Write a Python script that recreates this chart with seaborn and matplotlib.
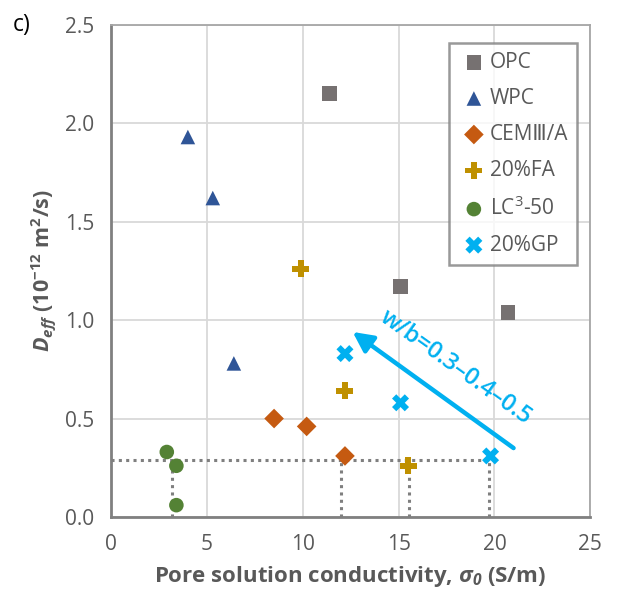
import numpy as np
import pandas as pd
import matplotlib
matplotlib.use('Agg')
import matplotlib.pyplot as plt
import seaborn as sns

# data
opc_x = [11.4, 15.1, 20.7]
opc_y = [2.15, 1.17, 1.04]
wpc_x = [4.0, 5.3, 6.4]
wpc_y = [1.93, 1.62, 0.78]
cem_x = [8.5, 10.2, 12.2]
cem_y = [0.50, 0.46, 0.31]
fa_x = [9.9, 12.2, 15.5]
fa_y = [1.26, 0.64, 0.26]
lc3_x = [2.9, 3.4, 3.4]
lc3_y = [0.33, 0.26, 0.06]
gp_x = [12.2, 15.1, 19.8]
gp_y = [0.83, 0.58, 0.31]

names = ['OPC', 'WPC', 'CEMⅢ/A', '20%FA', 'LC$^3$-50', '20%GP']
colors = ['#767171', '#2F5597', '#C55A11', '#BF9000', '#548235', '#00B0F0']
markers = ['s', '^', 'D', 'P', 'o', 'X']
sizes = [110, 110, 100, 150, 110, 150]

# threshold guide lines (dotted)
thr_y = 0.29
thr_x = [3.15, 12.0, 15.55, 19.7]

sns.set_style('white')
plt.rcParams['font.family'] = ['Open Sans', 'DejaVu Sans']
plt.rcParams['mathtext.fontset'] = 'custom'
plt.rcParams['mathtext.rm'] = 'Open Sans'
plt.rcParams['mathtext.it'] = 'Open Sans:italic'
plt.rcParams['mathtext.bf'] = 'Open Sans:bold'
plt.rcParams['mathtext.bfit'] = 'Open Sans:bold:italic'

df = pd.DataFrame({
    'x': opc_x + wpc_x + cem_x + fa_x + lc3_x + gp_x,
    'y': opc_y + wpc_y + cem_y + fa_y + lc3_y + gp_y,
    'mix': sum([[n] * 3 for n in names], []),
})

fig = plt.figure(figsize=(6.18, 6.05), dpi=100)
ax = fig.add_axes([0.18, 0.1455, 0.775, 0.8135])

# dotted guides
ax.plot([0, thr_x[-1]], [thr_y, thr_y], ls=(0, (1, 1.4)), color='#7F7F7F', lw=2.2, zorder=1)
for xv in thr_x:
    ax.plot([xv, xv], [0, thr_y], ls=(0, (1, 1.4)), color='#7F7F7F', lw=2.2, zorder=1)

for n, c, m, s in zip(names, colors, markers, sizes):
    sub = df[df['mix'] == n]
    sns.scatterplot(data=sub, x='x', y='y', color=c, marker=m, s=s,
                    edgecolor='none', label=n, ax=ax, zorder=3)

ax.annotate('', xy=(12.6, 0.94), xytext=(21.0, 0.35),
            arrowprops=dict(arrowstyle='-|>', color='#00B0F0', lw=3.2,
                            mutation_scale=30, shrinkA=0, shrinkB=0))
ax.text(18.0, 0.76, 'w/b=0.3–0.4–0.5', color='#00B0F0', fontsize=17,
        fontweight='semibold', rotation=-35.5, ha='center', va='center',
        rotation_mode='anchor')

ax.set_xlim(0, 25)
ax.set_ylim(0, 2.5)
ax.set_xticks(np.arange(0, 26, 5))
ax.set_yticks(np.arange(0, 2.51, 0.5))
ax.set_yticklabels([f'{v:.1f}' for v in np.arange(0, 2.51, 0.5)])
ax.grid(True, color='#D9D9D9', lw=1.3)
ax.set_axisbelow(True)
ax.tick_params(axis='both', labelsize=15, colors='#595959', length=0, pad=12)
for sp in ax.spines.values():
    sp.set_color('#A6A6A6')
    sp.set_linewidth(1.3)
ax.spines['left'].set_color('#808080')
ax.spines['bottom'].set_color('#808080')
ax.spines['left'].set_linewidth(2)
ax.spines['bottom'].set_linewidth(2)

ax.set_xlabel(r'Pore solution conductivity, $\mathbfit{\sigma_0}$ (S/m)',
              fontsize=16, fontweight='bold', color='#595959', labelpad=7)
ax.set_ylabel(r'$\mathbfit{D_{eff}}$ (10$^{\mathbf{-12}}$ m$^{\mathbf{2}}$/s)',
              fontsize=15.5, fontweight='bold', color='#595959', labelpad=5)

leg = ax.legend(loc='upper right', bbox_to_anchor=(0.995, 0.985), fontsize=15,
                frameon=True, fancybox=False, edgecolor='#808080',
                handletextpad=0.0, labelspacing=0.72, borderpad=0.45,
                handlelength=1.5, labelcolor='#595959')
leg.get_frame().set_linewidth(1.8)

fig.text(0.02, 0.978, 'c)', fontsize=16.5, color='black', va='top')

fig.savefig('out.png', dpi=100)
